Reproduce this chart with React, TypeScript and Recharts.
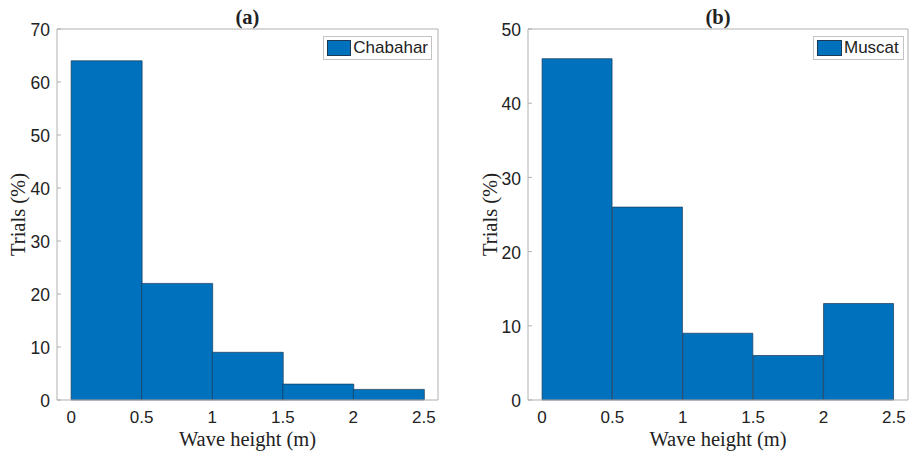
import { BarChart, Bar, XAxis, YAxis, Legend } from "recharts";

const BIN_CENTERS = [0.25, 0.75, 1.25, 1.75, 2.25];
const CHABAHAR = [64, 22, 9, 3, 2];
const MUSCAT = [46, 26, 9, 6, 13];
const X_TICKS = [0, 0.5, 1, 1.5, 2, 2.5];
const Y_TICKS_A = [0, 10, 20, 30, 40, 50, 60, 70];
const Y_TICKS_B = [0, 10, 20, 30, 40, 50];

const BLUE = "#0072BD";
const EDGE = "#1b3a57";
const AXIS = "#b0b0b0";
const INK = "#222222";
const SANS = "'Liberation Sans', Arial, Helvetica, sans-serif";
const SERIF = "'Liberation Serif', 'Times New Roman', serif";

interface PanelProps {
  title: string;
  name: string;
  values: number[];
  yTicks: number[];
  left: number;
  width: number;
  yAxisWidth: number;
  marginRight: number;
  labelDx: number;
  legendLeft: number;
  legendWidth: number;
}

function LegendBox({ payload, width }: any) {
  const item = payload && payload[0];
  return (
    <div
      style={{
        width,
        height: 24,
        boxSizing: "border-box",
        border: "1px solid #c4c4c4",
        background: "#fff",
        display: "flex",
        alignItems: "center",
        padding: "0 3px",
        fontFamily: SANS,
        fontSize: 17,
        color: INK,
      }}
    >
      <span
        style={{
          display: "inline-block",
          width: 25,
          height: 16,
          background: BLUE,
          boxSizing: "border-box",
          border: `1px solid ${EDGE}`,
          marginRight: 2,
        }}
      />
      <span style={{ lineHeight: "16px" }}>{item ? item.value : ""}</span>
    </div>
  );
}

function Panel({
  title,
  name,
  values,
  yTicks,
  left,
  width,
  yAxisWidth,
  marginRight,
  labelDx,
  legendLeft,
  legendWidth,
}: PanelProps) {
  const data = BIN_CENTERS.map((x, i) => ({ x, v: values[i] }));
  const yMax = yTicks[yTicks.length - 1];
  const xDomain = [-0.1, 2.6];

  return (
    <div style={{ position: "absolute", left, top: 0 }}>
      <BarChart
        width={width}
        height={455}
        data={data}
        margin={{ top: 28, right: marginRight, bottom: 0, left: 0 }}
        barCategoryGap={0}
        barGap={0}
      >
        <XAxis
          dataKey="x"
          type="number"
          domain={xDomain}
          ticks={X_TICKS}
          height={55}
          stroke={AXIS}
          tickLine={false}
          tickSize={0}
          tickMargin={11}
          tick={{ fill: INK, fontSize: 17, fontFamily: SANS }}
          label={{
            value: "Wave height (m)",
            position: "insideBottom",
            offset: 9.5,
            fill: INK,
            fontSize: 20.5,
            fontFamily: SERIF,
          }}
        />
        <XAxis
          xAxisId="top"
          orientation="top"
          type="number"
          domain={xDomain}
          ticks={X_TICKS}
          height={1}
          stroke={AXIS}
          tick={false}
          tickSize={-4}
          label={{
            value: title,
            position: "top",
            offset: 4.5,
            fill: INK,
            fontSize: 20.5,
            fontWeight: "bold",
            fontFamily: SERIF,
          }}
        />
        <YAxis
          domain={[0, yMax]}
          ticks={yTicks}
          width={yAxisWidth}
          stroke={AXIS}
          tickSize={-4}
          tickMargin={11}
          tick={{ fill: INK, fontSize: 17.5, fontFamily: SANS, dy: 1 }}
          label={{
            value: "Trials (%)",
            angle: -90,
            position: "center",
            dx: labelDx,
            fill: INK,
            fontSize: 20.5,
            fontFamily: SERIF,
          }}
        />
        <YAxis
          yAxisId="right"
          orientation="right"
          domain={[0, yMax]}
          ticks={yTicks}
          width={1}
          stroke={AXIS}
          tick={false}
          tickSize={-4}
        />
        <Legend
          layout="horizontal"
          align="center"
          verticalAlign="middle"
          wrapperStyle={{ top: 36, left: legendLeft, width: legendWidth, height: 24 }}
          content={(props: any) => <LegendBox {...props} width={legendWidth} />}
        />
        <Bar
          dataKey="v"
          name={name}
          fill={BLUE}
          stroke={EDGE}
          strokeWidth={0.7}
          isAnimationActive={false}
        />
      </BarChart>
    </div>
  );
}

export default function App() {
  return (
    <div style={{ position: "absolute", left: 0, top: 0, width: 915, height: 455, background: "#fff" }}>
      <Panel
        title="(a)"
        name="Chabahar"
        values={CHABAHAR}
        yTicks={Y_TICKS_A}
        left={0}
        width={460}
        yAxisWidth={57}
        marginRight={21}
        labelDx={-10.5}
        legendLeft={323}
        legendWidth={109}
      />
      <Panel
        title="(b)"
        name="Muscat"
        values={MUSCAT}
        yTicks={Y_TICKS_B}
        left={460}
        width={455}
        yAxisWidth={68}
        marginRight={6}
        labelDx={-4}
        legendLeft={353}
        legendWidth={91}
      />
    </div>
  );
}
